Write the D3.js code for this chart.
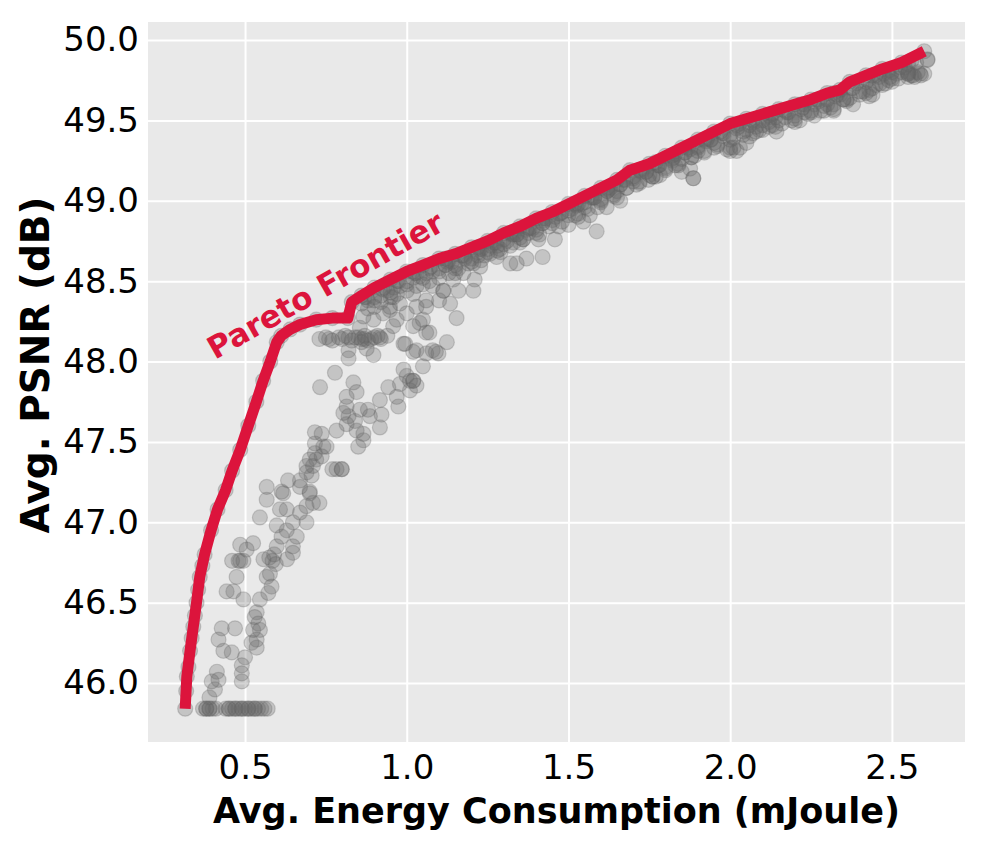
<!DOCTYPE html>
<html>
<head>
<meta charset="utf-8">
<script src="https://cdn.jsdelivr.net/npm/d3@7"></script>
<style>
  body { margin: 0; background: #fff; }
  text { font-family: "DejaVu Sans", sans-serif; }
</style>
</head>
<body>
<script>
// Pareto frontier (energy mJ, PSNR dB)
const frontier = [
  [0.315,45.84],[0.32,46.04],[0.33,46.2],[0.34,46.35],[0.35,46.5],[0.36,46.66],[0.375,46.8],
  [0.395,46.95],[0.415,47.08],[0.44,47.2],[0.46,47.32],[0.485,47.45],[0.51,47.6],[0.535,47.75],
  [0.556,47.88],[0.578,48.0],[0.598,48.12],[0.612,48.16],[0.64,48.2],[0.67,48.23],[0.72,48.26],
  [0.77,48.27],[0.818,48.27],[0.83,48.37],[0.86,48.41],[0.9,48.46],[0.95,48.51],[1.0,48.56],
  [1.05,48.6],[1.1,48.64],[1.15,48.67],[1.2,48.71],[1.25,48.75],[1.3,48.8],[1.35,48.84],
  [1.4,48.89],[1.45,48.93],[1.5,48.98],[1.55,49.03],[1.6,49.08],[1.65,49.13],[1.69,49.19],
  [1.75,49.23],[1.8,49.28],[1.85,49.33],[1.9,49.38],[1.95,49.43],[2.0,49.48],[2.05,49.51],
  [2.1,49.54],[2.15,49.57],[2.2,49.6],[2.25,49.63],[2.3,49.67],[2.34,49.69],[2.37,49.74],
  [2.42,49.78],[2.47,49.82],[2.53,49.86],[2.6,49.93]
];

// the slowest configs, all sitting at the lowest psnr
const bottomRow = [
  [0.37,45.84],[0.38,45.84],[0.39,45.84],[0.40,45.84],[0.41,45.84],[0.44,45.84],[0.45,45.84],
  [0.46,45.84],[0.47,45.84],[0.48,45.84],[0.49,45.84],[0.50,45.84],[0.51,45.84],[0.52,45.84],
  [0.53,45.84],[0.54,45.84],[0.55,45.84],[0.56,45.84],[0.57,45.84],[0.38,45.84],[0.39,45.84],
  [0.45,45.84],[0.47,45.84],[0.49,45.84],[0.51,45.84],[0.53,45.84]
];

// steep part, left of 0.8 mJ
const lowCloud = [
  [0.318,45.95],[0.325,46.1],[0.335,46.28],[0.345,46.42],[0.355,46.58],[0.368,46.73],
  [0.39,45.91],[0.407,45.96],[0.397,46.01],[0.418,46.02],[0.413,46.07],[0.49,46.01],[0.49,46.06],
  [0.49,46.11],[0.50,46.16],[0.459,46.19],[0.433,46.2],[0.418,46.27],[0.536,46.22],[0.52,46.25],
  [0.536,46.27],[0.546,46.33],[0.525,46.33],[0.428,46.34],[0.469,46.34],[0.541,46.37],[0.53,46.41],
  [0.536,46.44],[0.495,46.52],[0.546,46.52],[0.572,46.56],[0.443,46.57],[0.464,46.57],[0.582,46.6],
  [0.474,46.66],[0.567,46.66],[0.577,46.68],[0.46,46.76],[0.48,46.76],[0.495,46.76],[0.485,46.76],
  [0.505,46.83],[0.485,46.86],[0.525,46.87],[0.557,46.77],[0.575,46.78],[0.585,46.76],[0.59,46.8],
  [0.595,46.74],[0.63,46.77],[0.648,46.81],[0.598,46.85],[0.648,46.85],[0.613,46.91],[0.66,46.91],
  [0.629,46.95],[0.598,46.98],[0.648,47.0],[0.69,47.0],[0.546,47.03],[0.67,47.06],[0.608,47.08],
  [0.629,47.08],[0.69,47.1],[0.71,47.12],[0.73,47.12],[0.567,47.14],[0.613,47.19],[0.618,47.18],
  [0.70,47.18],[0.70,47.19],[0.567,47.22],[0.67,47.22],[0.633,47.26],[0.67,47.26],[0.706,47.29],
  [0.69,47.31],[0.77,47.33],[0.69,47.35],[0.71,47.35],[0.72,47.39],[0.70,47.39],[0.716,47.43]
];

// between the knee and 1.1 mJ
const midCloud = [
  [0.737,47.41],[0.742,47.47],[0.752,47.47],[0.716,47.49],[0.85,47.47],[0.866,47.51],[0.716,47.56],
  [0.737,47.55],[0.866,47.55],[0.783,47.57],[0.845,47.57],[0.917,47.59],[0.814,47.61],[0.84,47.63],
  [0.82,47.66],[0.886,47.66],[0.922,47.67],[0.804,47.68],[0.855,47.7],[0.88,47.7],[0.814,47.72],
  [0.974,47.72],[0.917,47.76],[0.814,47.78],[0.969,47.78],[0.845,47.81],[1.01,47.82],[0.732,47.84],
  [0.943,47.84],[1.03,47.85],[0.979,47.86],[0.835,47.87],[1.02,47.88],[1.02,47.88],[1.01,47.88],
  [1.0,47.91],[0.778,47.93],[0.99,47.95],[1.05,47.97],[0.82,48.02],[0.897,48.04],[1.06,48.05],
  [1.098,48.05],[1.02,48.06],[1.09,48.06],[1.08,48.07],[1.03,48.07],[0.82,48.07],[0.876,48.08],
  [0.783,47.33],[0.799,47.33],[0.799,47.33],
  [0.73,48.14],[0.75,48.15],[0.77,48.13],[0.79,48.15],[0.80,48.14],[0.81,48.16],[0.83,48.13],
  [0.84,48.15],[0.86,48.14],[0.87,48.16],[0.88,48.13],[0.90,48.15],[0.92,48.14],[0.94,48.16],
  [0.85,48.15],[0.87,48.14],[0.76,48.14],[0.82,48.15],[0.89,48.14],[0.91,48.16],[0.86,48.12],
  [0.99,48.11],[0.995,48.11],[1.124,48.12],[0.917,48.15],[1.07,48.18],
  [1.06,48.18],[0.855,48.21],[1.02,48.22],[0.958,48.22],[1.04,48.24],[0.897,48.26],[0.969,48.26],
  [1.05,48.26],[1.154,48.27],[0.866,48.28],[0.927,48.3],[1.0,48.3],[0.948,48.32],[0.948,48.34],
  [1.06,48.34],[1.03,48.34],[0.979,48.36],[1.134,48.36],[1.10,48.38],[1.06,48.38],[0.958,48.4],
  [1.02,48.42],[1.113,48.44],[1.113,48.44],[1.16,48.44],[1.206,48.44],[1.08,48.47],[1.21,48.51],
  [1.144,48.51],[1.175,48.55],
  [0.86,48.36],[0.88,48.38],[0.9,48.4],[0.92,48.41],[0.94,48.44],[0.96,48.46],[0.98,48.47],
  [1.0,48.5],[1.02,48.52],[1.04,48.53],[1.06,48.55],[1.08,48.56],[1.1,48.58],[1.12,48.6],
  [0.9,48.34],[0.95,48.4],[1.0,48.44],[1.05,48.48],[1.1,48.52],[1.15,48.55]
];

// dense band just under the frontier
const upperBand = [
  [1.206,48.61],[1.227,48.59],[1.257,48.67],[1.278,48.65],[1.32,48.61],[1.34,48.61],[1.37,48.64],
  [1.42,48.65],[1.288,48.7],[1.33,48.74],[1.407,48.76],[1.458,48.76],[1.376,48.8],[1.5,48.85],
  [1.546,48.87],[1.587,48.81],[1.566,48.91],[1.618,48.96],[1.66,49.0],
  [1.12,48.6],[1.15,48.58],[1.18,48.64],[1.22,48.66],[1.25,48.7],[1.28,48.72],[1.31,48.75],
  [1.34,48.79],[1.36,48.76],[1.39,48.83],[1.42,48.86],[1.45,48.88],[1.48,48.93],[1.51,48.95],
  [1.53,48.92],[1.55,48.99],[1.58,49.02],[1.6,49.0],[1.62,49.06],[1.64,49.04],[1.66,49.1],
  [1.68,49.08],[1.7,49.14],[1.72,49.12],[1.74,49.18],[1.76,49.15],[1.78,49.22],[1.8,49.2],
  [1.82,49.25],[1.84,49.22],[1.86,49.3],[1.88,49.27],[1.9,49.33],[1.92,49.3],[1.94,49.38],
  [1.96,49.35],[1.98,49.4],[2.0,49.33],[2.02,49.31],[1.99,49.32],[2.03,49.33],[2.04,49.43],
  [2.06,49.4],[2.05,49.36],[2.09,49.44],[2.08,49.46],[2.1,49.44],[2.12,49.49],[2.143,49.43],
  [2.14,49.46],[2.17,49.52],[2.2,49.49],[2.215,49.5],[2.23,49.55],[2.26,49.53],[2.29,49.56],
  [2.29,49.59],[2.32,49.57],[2.32,49.56],[2.35,49.63],[2.36,49.62],[2.38,49.6],[2.41,49.68],
  [2.42,49.67],[2.43,49.65],[2.44,49.66],[2.463,49.73],[2.47,49.72],[2.494,49.77],[2.5,49.74],
  [2.515,49.79],[2.53,49.8],[2.55,49.77],[2.566,49.78],[2.56,49.78],[2.587,49.79],[2.58,49.8],
  [2.6,49.79],[2.61,49.88],[2.61,49.875],
  [1.14,48.62],[1.18,48.65],[1.22,48.68],[1.26,48.72],[1.3,48.76],[1.34,48.79],[1.38,48.83],
  [1.42,48.86],[1.46,48.9],[1.5,48.94],[1.54,48.98],[1.58,49.02],[1.62,49.06],[1.66,49.1],
  [1.7,49.15],[1.74,49.18],[1.78,49.22],[1.82,49.26],[1.86,49.3],[1.9,49.34],[1.94,49.38],
  [1.98,49.42],[2.02,49.45],[2.06,49.47],[2.1,49.5],[2.14,49.52],[2.18,49.55],[2.22,49.57],
  [2.26,49.6],[2.3,49.63],[2.34,49.66],[2.38,49.7],[2.42,49.74],[2.46,49.77],[2.5,49.8],[2.54,49.83],
  [1.16,48.58],[1.2,48.62],[1.24,48.66],[1.28,48.69],[1.32,48.72],[1.36,48.76],[1.4,48.8],
  [1.44,48.84],[1.48,48.87],[1.52,48.91],[1.56,48.95],[1.6,48.99],[1.64,49.03],[1.68,49.08],
  [1.72,49.11],[1.76,49.15],[1.8,49.19],[1.84,49.23],[1.88,49.27],[1.92,49.31],[1.96,49.34],
  [2.0,49.38],[2.04,49.41],[2.08,49.43],[2.12,49.46],[2.16,49.48],[2.2,49.51],[2.24,49.54],
  [2.28,49.56],[2.32,49.6],[2.36,49.63],[2.4,49.66],[2.44,49.7],[2.48,49.73],[2.52,49.76],
  [1.02,48.56],[1.12,48.64],[1.22,48.71],[1.32,48.8],[1.42,48.89],[1.52,48.98],[1.62,49.08],
  [1.72,49.19],[1.82,49.28],[1.92,49.38],[2.02,49.47],[2.12,49.53],[2.22,49.6],[2.32,49.67],
  [2.44,49.78],[2.56,49.87],
  [0.87,48.4],[0.93,48.46],[0.97,48.5],[1.03,48.55],[1.07,48.58],[1.13,48.63],[1.17,48.66],
  [1.23,48.7],[1.27,48.74],[1.33,48.79],[1.37,48.82],[1.43,48.89],[1.47,48.92],[1.53,48.98],
  [1.57,49.02],[1.63,49.08],[1.67,49.13],[1.73,49.2],[1.77,49.24],[1.83,49.29],[1.87,49.33],
  [1.93,49.39],[1.97,49.43],[2.03,49.48],[2.07,49.5],[2.13,49.54],[2.17,49.56],[2.23,49.6],
  [2.27,49.63],[2.33,49.66],[2.39,49.73],[2.45,49.78],[2.49,49.81],[2.55,49.85],
  [0.88,48.33],[0.92,48.37],[0.97,48.42],[1.03,48.47],[1.07,48.5],[1.13,48.55],[1.19,48.61],
  [1.23,48.63],[1.29,48.68],[1.35,48.74],[1.41,48.79],[1.47,48.84],[1.53,48.9],[1.59,48.96],
  [1.65,49.02],[1.71,49.1],[1.77,49.15],[1.83,49.22],[1.89,49.28],[1.95,49.33],[2.01,49.39],
  [2.07,49.42],[2.13,49.47],[2.19,49.5],[2.25,49.55],[2.31,49.58],[2.37,49.64],[2.43,49.69],
  [2.49,49.75],[2.55,49.79],
  [2.0,49.31],[2.01,49.33],[2.57,49.77],[2.59,49.78],[2.55,49.79],
  [0.875,48.4],[0.925,48.45],[0.975,48.5],[1.025,48.55],[1.075,48.59],[1.125,48.62],[1.175,48.66],
  [1.225,48.7],[1.275,48.74],[1.325,48.79],[1.375,48.83],[1.425,48.88],[1.475,48.92],[1.525,48.97],
  [1.575,49.02],[1.625,49.07],[1.675,49.13],[1.725,49.18],[1.775,49.22],[1.825,49.27],[1.875,49.32],
  [1.925,49.37],[1.975,49.42],[2.025,49.46],[2.075,49.49],[2.125,49.52],[2.175,49.55],[2.225,49.58],
  [2.275,49.62],[2.325,49.65],[2.375,49.7],[2.425,49.75],[2.475,49.79],[2.525,49.83],[2.575,49.86],
  [0.9,48.38],[0.95,48.43],[1.0,48.48],[1.05,48.52],[1.1,48.56],[1.15,48.6],[1.2,48.64],
  [1.25,48.68],[1.3,48.73],[1.35,48.77],[1.4,48.82],[1.45,48.86],[1.5,48.91],[1.55,48.96],
  [1.6,49.01],[1.65,49.06],[1.7,49.12],[1.75,49.16],[1.8,49.21],[1.85,49.26],[1.9,49.31],
  [1.95,49.36],[2.0,49.41],[2.05,49.44],[2.1,49.47],[2.15,49.5],[2.2,49.53],[2.25,49.56],
  [2.3,49.6],[2.35,49.63],[2.4,49.68],[2.45,49.72],[2.5,49.76],[2.55,49.8]
];

// stray points under the band
const outliers = [
  [1.747,49.13],[1.783,49.16],[1.85,49.18],[1.876,49.2],[1.886,49.14],[1.886,49.14]
];

const xTicks = [0.5, 1.0, 1.5, 2.0, 2.5];
const yTicks = [46.0, 46.5, 47.0, 47.5, 48.0, 48.5, 49.0, 49.5, 50.0];

const W = 987, H = 846;
const plot = { left: 148, right: 965, top: 22, bottom: 742 };

const svg = d3.select("body").append("svg")
    .attr("width", W)
    .attr("height", H);

const x = d3.scaleLinear().domain([0.2, 2.726]).range([plot.left, plot.right]);
const y = d3.scaleLinear().domain([45.633, 50.112]).range([plot.bottom, plot.top]);

// gray panel
svg.append("rect")
    .attr("x", plot.left).attr("y", plot.top)
    .attr("width", plot.right - plot.left)
    .attr("height", plot.bottom - plot.top)
    .attr("fill", "#e9e9e9");

// grid lines
svg.append("g")
    .attr("transform", "translate(0," + plot.bottom + ")")
    .call(d3.axisBottom(x).tickValues(xTicks).tickSize(-(plot.bottom - plot.top)).tickFormat(""))
    .call(g => g.select(".domain").remove())
    .selectAll("line").attr("stroke", "#fff").attr("stroke-width", 2);

svg.append("g")
    .attr("transform", "translate(" + plot.left + ",0)")
    .call(d3.axisLeft(y).tickValues(yTicks).tickSize(-(plot.right - plot.left)).tickFormat(""))
    .call(g => g.select(".domain").remove())
    .selectAll("line").attr("stroke", "#fff").attr("stroke-width", 2);

// all configurations as translucent dots
const allPoints = [].concat(bottomRow, lowCloud, midCloud, upperBand, outliers, frontier);
svg.append("g")
    .selectAll("circle")
    .data(allPoints)
    .enter()
    .append("circle")
    .attr("cx", d => x(d[0]))
    .attr("cy", d => y(d[1]))
    .attr("r", 7.5)
    .attr("fill", "#636363")
    .attr("fill-opacity", 0.28)
    .attr("stroke", "#636363")
    .attr("stroke-opacity", 0.28)
    .attr("stroke-width", 1.2);

// frontier line
const line = d3.line().x(d => x(d[0])).y(d => y(d[1]));
svg.append("path")
    .attr("d", line(frontier))
    .attr("fill", "none")
    .attr("stroke", "#dc143c")
    .attr("stroke-width", 11)
    .attr("stroke-linejoin", "round");

svg.append("text")
    .attr("transform", "translate(215,360) rotate(-29.5)")
    .attr("fill", "#dc143c")
    .attr("font-weight", "bold")
    .attr("font-size", "31px")
    .text("Pareto Frontier");

// tick labels
const xAxis = svg.append("g")
    .attr("transform", "translate(0," + plot.bottom + ")")
    .call(d3.axisBottom(x).tickValues(xTicks).tickSize(0).tickPadding(13).tickFormat(d3.format(".1f")));
xAxis.select(".domain").remove();
xAxis.selectAll("text").attr("font-size", "34px").attr("font-family", "DejaVu Sans").attr("fill", "#000");

const yAxis = svg.append("g")
    .attr("transform", "translate(" + plot.left + ",0)")
    .call(d3.axisLeft(y).tickValues(yTicks).tickSize(0).tickPadding(9).tickFormat(d3.format(".1f")));
yAxis.select(".domain").remove();
yAxis.selectAll("text").attr("font-size", "34px").attr("font-family", "DejaVu Sans").attr("fill", "#000");

// axis titles
svg.append("text")
    .attr("x", (plot.left + plot.right) / 2)
    .attr("y", 823)
    .attr("text-anchor", "middle")
    .attr("font-weight", "bold")
    .attr("font-size", "35px")
    .text("Avg. Energy Consumption (mJoule)");

svg.append("text")
    .attr("transform", "translate(49,365) rotate(-90)")
    .attr("text-anchor", "middle")
    .attr("font-weight", "bold")
    .attr("font-size", "39px")
    .text("Avg. PSNR (dB)");
</script>
</body>
</html>
